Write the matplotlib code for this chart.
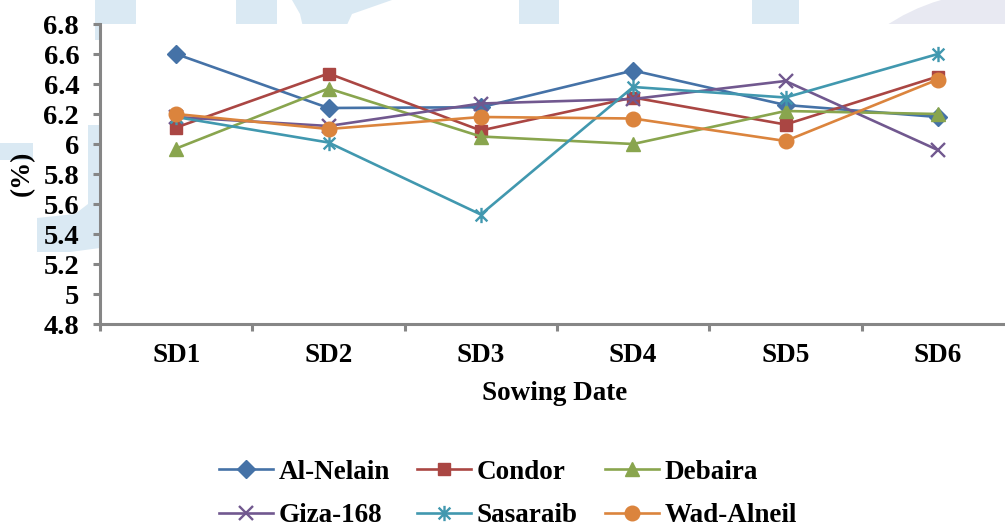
import numpy as np
import matplotlib
matplotlib.use("Agg")
import matplotlib.pyplot as plt
from matplotlib.path import Path
from matplotlib.patches import Polygon, Ellipse

# data
dates = ["SD1", "SD2", "SD3", "SD4", "SD5", "SD6"]
al_nelain = [6.60, 6.24, 6.245, 6.49, 6.26, 6.18]
condor = [6.11, 6.47, 6.09, 6.31, 6.13, 6.45]
debaira = [5.97, 6.37, 6.05, 6.00, 6.22, 6.20]
giza_168 = [6.18, 6.12, 6.27, 6.30, 6.42, 5.96]
sasaraib = [6.18, 6.01, 5.53, 6.38, 6.31, 6.60]
wad_alneil = [6.20, 6.10, 6.18, 6.17, 6.02, 6.43]
yticks = [4.8, 5, 5.2, 5.4, 5.6, 5.8, 6, 6.2, 6.4, 6.6, 6.8]

plt.rcParams['font.family'] = ['Liberation Serif', 'DejaVu Serif']
plt.rcParams['font.weight'] = 'bold'

W, H = 1005, 529
fig = plt.figure(figsize=(W / 100, H / 100), dpi=100)

def fx(x, y):
    return (x / W, 1 - y / H)

# faint watermark behind the chart
wm = "#dae9f3"
shapes = [
    [(95, 0), (136, 0), (136, 40), (95, 40)],
    [(236, 0), (277, 0), (277, 40), (236, 40)],
    [(292, 0), (392, 0), (352, 14), (340, 40), (306, 40), (300, 14)],
    [(519, 0), (559, 0), (559, 40), (519, 40)],
    [(752, 0), (799, 0), (799, 40), (752, 40)],
    [(0, 143), (33, 143), (33, 160), (0, 160)],
    [(88, 125), (100, 125), (100, 248), (70, 252), (37, 252), (37, 218), (75, 214), (88, 204)],
]
for s in shapes:
    fig.add_artist(Polygon([fx(*p) for p in s], closed=True, transform=fig.transFigure,
                           facecolor=wm, edgecolor="none", zorder=0))
fig.add_artist(Ellipse(fx(1010, 120), 360 / W, 260 / H, transform=fig.transFigure,
                       facecolor="#e8e9f2", edgecolor="none", zorder=0))

ax = fig.add_axes([100 / W, 1 - 324 / H, 914 / W, 300 / H])
ax.set_facecolor("white")
ax.set_zorder(2)

star = Path([(-1, -1), (1, 1), (-1, 1), (1, -1), (0, -1.3), (0, 1.3)],
            [Path.MOVETO, Path.LINETO, Path.MOVETO, Path.LINETO, Path.MOVETO, Path.LINETO])

series = [
    ("Al-Nelain", al_nelain, "#4572a7", "D", 9),
    ("Condor", condor, "#aa4643", "s", 9),
    ("Debaira", debaira, "#89a54e", "^", 10),
    ("Giza-168", giza_168, "#71588f", "x", 10),
    ("Sasaraib", sasaraib, "#4198af", star, 11),
    ("Wad-Alneil", wad_alneil, "#db843d", "o", 10.5),
]
x = np.arange(len(dates))
handles = []
for name, vals, col, mk, ms in series:
    if mk == "x" or isinstance(mk, Path):
        h, = ax.plot(x, vals, color=col, lw=1.9, marker=mk, ms=ms,
                     mfc="none", mec=col, mew=1.7, label=name)
    else:
        h, = ax.plot(x, vals, color=col, lw=1.9, marker=mk, ms=ms,
                     mfc=col, mec=col, label=name)
    handles.append(h)

ax.set_xlim(-0.5, len(dates) - 0.5)
ax.set_ylim(4.8, 6.8)
ax.set_yticks(yticks)
ax.set_yticklabels([f"{v:g}" for v in yticks])
ax.set_xticks(x)
ax.set_xticklabels(dates)
ax.set_xticks(np.arange(len(dates) + 1) - 0.5, minor=True)

for side in ["top", "right"]:
    ax.spines[side].set_visible(False)
for side in ["left", "bottom"]:
    ax.spines[side].set_color("#868686")
    ax.spines[side].set_linewidth(2.2)

ax.tick_params(axis="y", direction="out", length=5, width=2.2, color="#868686",
               labelsize=20.5, pad=10)
ax.tick_params(axis="x", which="major", length=0, labelsize=19.5, pad=14)
ax.tick_params(axis="x", which="minor", direction="out", length=5, width=2.2,
               color="#868686")

fig.text(*fx(555, 394), "Sowing Date", ha="center", va="center", fontsize=19.5,
         fontweight="bold")
fig.text(*fx(22, 173), "(%)", ha="center", va="center", rotation=90,
         fontsize=19.5, fontweight="bold")

# legend: three per row
order = [0, 3, 1, 4, 2, 5]
leg = fig.legend([handles[i] for i in order], [series[i][0] for i in order],
                 ncol=3, loc="center", bbox_to_anchor=fx(508, 494),
                 frameon=False, fontsize=19.5, handlelength=2.0, handletextpad=0.2,
                 columnspacing=1.0, labelspacing=0.7)

fig.savefig("out.png", dpi=100)
